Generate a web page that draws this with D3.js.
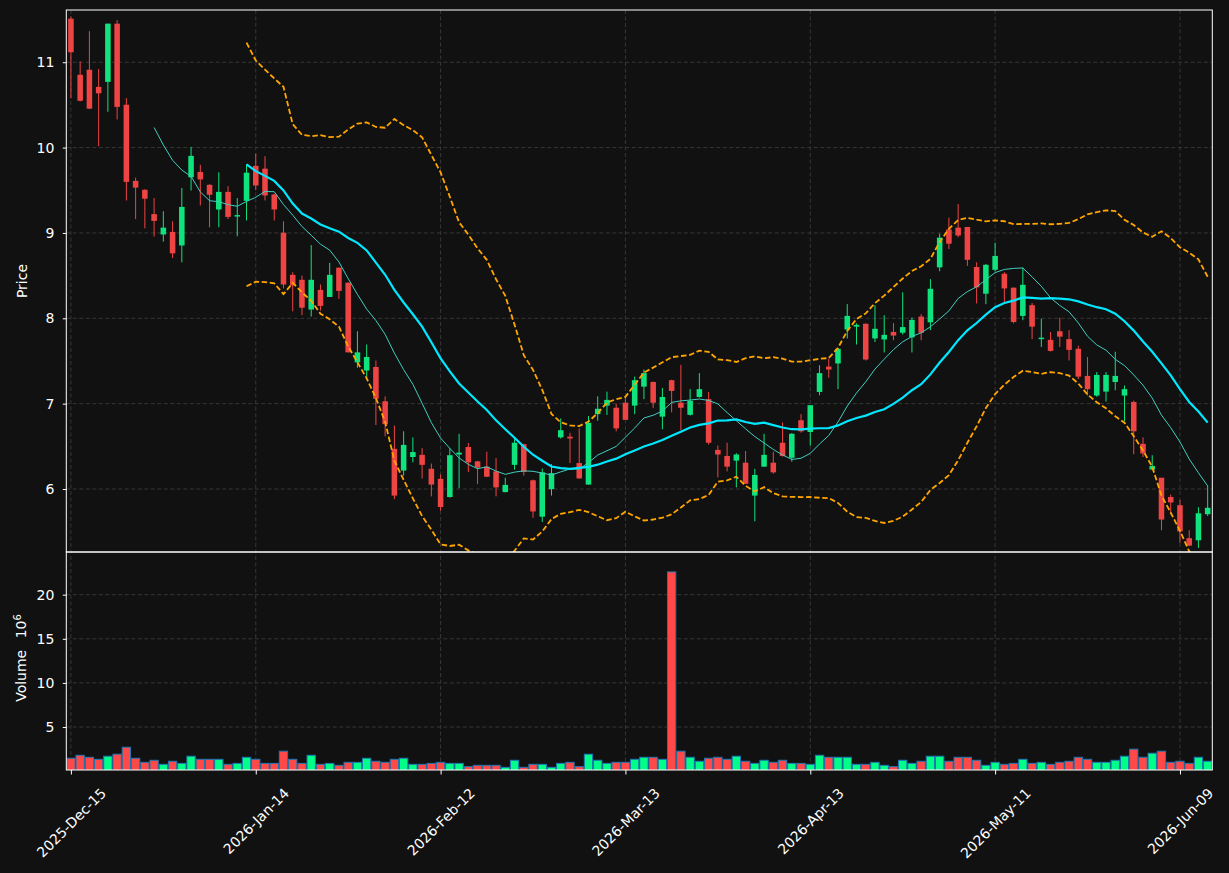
<!DOCTYPE html>
<html><head><meta charset="utf-8">
<script src="https://cdn.jsdelivr.net/npm/d3@7"></script>
<style>html,body{margin:0;padding:0;background:#111111;} svg{display:block;}</style>
</head><body><svg id="chart" width="1229" height="873"></svg>
<script>
const opens = [11.51,10.853,10.912,10.711,10.77,11.452,10.502,9.61,9.506,9.221,8.982,9.012,8.853,9.652,9.715,9.564,9.275,9.481,9.192,9.376,
9.786,9.753,9.451,9.003,8.509,8.451,8.103,8.333,8.25,8.593,8.417,7.484,7.388,7.43,7.028,6.471,6.216,6.375,6.4,6.237,
6.119,5.906,6.404,6.492,6.324,6.262,6.207,5.964,6.283,6.525,6.102,5.676,5.998,6.605,6.613,6.304,6.052,6.877,6.977,6.952,
7.011,6.977,7.199,7.254,6.848,7.275,7.011,6.869,7.078,7.053,6.458,6.387,6.333,6.308,5.923,6.262,6.308,6.542,6.366,6.806,
6.668,7.137,7.434,7.471,7.869,7.902,7.936,7.764,7.752,7.84,7.831,7.777,8.02,7.953,8.597,9.041,9.062,9.07,8.601,8.288,
8.568,8.522,8.359,8.028,8.154,7.756,7.748,7.848,7.756,7.643,7.325,7.095,7.141,7.254,7.095,7.019,6.529,6.228,6.132,5.906,
5.81,5.424,5.399,5.705];
const highs = [11.536,11.01,11.364,10.92,11.452,11.494,10.58,9.648,9.51,9.409,9.254,9.137,9.527,10.008,9.799,9.57,9.711,9.548,9.409,9.807,
9.93,9.899,9.46,9.137,8.54,8.5,8.857,8.396,8.65,8.593,8.42,7.848,7.693,7.505,7.086,6.743,6.676,6.605,6.479,6.299,
6.17,6.479,6.647,6.54,6.33,6.437,6.362,6.132,6.584,6.53,6.11,6.241,6.291,6.827,6.659,6.71,6.856,7.086,7.141,7.0,
7.086,7.317,7.4,7.26,7.183,7.28,7.455,7.17,7.358,7.137,6.509,6.542,6.42,6.446,6.237,6.647,6.437,6.781,6.655,6.877,
6.98,7.45,7.526,7.65,8.166,7.94,7.94,8.154,8.036,7.944,8.304,8.01,8.049,8.459,8.991,9.179,9.338,9.07,8.656,8.635,
8.886,8.54,8.36,8.593,8.18,7.995,7.84,8.007,7.861,7.68,7.547,7.37,7.37,7.609,7.212,7.036,6.605,6.396,6.13,5.935,
5.872,5.517,5.787,6.04];
const lows = [10.58,10.54,10.45,10.016,10.42,10.33,9.38,9.162,9.054,8.957,8.899,8.706,8.656,9.497,9.321,9.066,9.066,9.162,8.961,9.146,
9.5,9.38,9.146,8.35,8.082,8.036,8.02,8.091,8.25,8.227,7.6,7.421,7.287,6.75,6.617,5.881,6.157,6.312,6.123,5.914,
5.746,5.9,6.01,6.199,6.057,6.14,5.914,5.96,6.228,6.157,5.663,5.613,5.923,6.59,6.304,6.12,6.05,6.8,6.867,6.676,
6.81,6.877,7.053,6.95,6.7,6.898,6.69,6.86,7.07,6.52,6.136,6.207,6.019,6.06,5.621,6.26,6.18,6.38,6.32,6.66,
6.509,7.099,7.304,7.17,7.764,7.693,7.505,7.722,7.6,7.743,7.81,7.6,7.743,7.861,8.551,8.811,8.95,8.614,8.174,8.166,
8.55,8.191,7.94,7.978,7.756,7.664,7.61,7.664,7.505,7.287,7.095,7.08,7.024,7.157,6.793,6.408,6.375,6.22,5.517,5.705,
5.37,5.33,5.31,5.684];
const closes = [11.117,10.548,10.456,10.636,11.452,10.477,9.598,9.531,9.401,9.141,9.062,8.761,9.305,9.903,9.627,9.447,9.481,9.188,9.209,9.706,
9.556,9.439,9.275,8.396,8.384,8.124,8.451,8.145,8.509,8.321,7.601,7.601,7.547,7.057,6.76,5.923,6.517,6.433,6.283,6.052,
5.789,6.396,6.426,6.312,6.25,6.144,6.019,6.048,6.542,6.199,5.737,6.195,6.186,6.689,6.592,6.124,6.776,6.94,7.044,6.71,
6.81,7.275,7.358,7.011,7.078,7.149,6.952,7.032,7.17,6.542,6.404,6.262,6.404,6.061,6.165,6.4,6.195,6.387,6.647,6.676,
6.982,7.358,7.4,7.643,8.028,7.923,7.517,7.877,7.806,7.798,7.897,7.981,7.831,8.346,8.945,8.874,8.97,8.685,8.363,8.627,
8.731,8.35,7.957,8.392,7.902,7.773,7.618,7.785,7.63,7.317,7.17,7.337,7.337,7.325,7.17,6.676,6.416,6.27,5.642,5.843,
5.504,5.337,5.716,5.78];
// volume in millions
const volumes = [1.46,1.80,1.57,1.34,1.69,1.92,2.71,1.46,1.00,1.23,0.77,1.12,0.88,1.69,1.34,1.34,1.34,0.77,0.88,1.57,
1.34,0.88,0.88,2.26,1.34,0.88,1.80,0.77,0.88,0.66,1.00,1.00,1.46,1.12,1.00,1.34,1.46,0.77,0.77,0.88,
1.00,0.88,0.88,0.51,0.66,0.66,0.66,0.43,1.23,0.43,0.77,0.77,0.43,0.88,1.00,0.51,1.92,1.23,0.88,1.00,
1.00,1.34,1.57,1.57,1.34,22.58,2.26,1.57,1.12,1.46,1.57,1.34,1.69,1.12,0.88,1.23,1.00,1.23,0.88,0.88,
0.77,1.80,1.57,1.57,1.57,0.77,0.77,1.00,0.66,0.51,1.23,0.88,1.12,1.69,1.69,1.12,1.57,1.57,1.23,0.66,
1.00,0.77,0.88,1.34,0.88,1.00,0.77,1.00,1.12,1.57,1.34,1.00,1.00,1.23,1.69,2.49,1.57,2.03,2.26,1.00,
1.12,0.88,1.57,1.12];
const startDate = "2025-12-15";
const holidays = ["2025-12-25","2026-01-01","2026-01-19","2026-02-16","2026-04-03","2026-05-25"];
const tickIndex = [0,20,40,60,80,100,120];
const tickLabels = ["2025-Dec-15","2026-Jan-14","2026-Feb-12","2026-Mar-13","2026-Apr-13","2026-May-11","2026-Jun-09"];
const priceTicks = [6,7,8,9,10,11];
const volumeTicks = [5,10,15,20];
const priceLimits = [5.262, 11.612];

// trading-day categories
const n = closes.length;
const fmt = d3.utcFormat("%Y-%m-%d");
const dates = [];
{
  let d = new Date(startDate + "T00:00:00Z");
  while (dates.length < n) {
    const wd = d.getUTCDay();
    if (wd !== 0 && wd !== 6 && !holidays.includes(fmt(d))) dates.push(new Date(d));
    d = d3.utcDay.offset(d, 1);
  }
}

const bars = d3.range(n).map(i => ({i, date: dates[i], o: opens[i], h: highs[i], l: lows[i], c: closes[i], v: volumes[i], up: closes[i] >= opens[i]}));

function rolling(arr, w) {
  return arr.map((_, i) => i < w - 1 ? null : d3.mean(arr.slice(i - w + 1, i + 1)));
}
function rollingStd(arr, w) {
  return arr.map((_, i) => {
    if (i < w - 1) return null;
    const s = arr.slice(i - w + 1, i + 1); const m = d3.mean(s);
    return Math.sqrt(d3.mean(s, v => (v - m) * (v - m)));
  });
}
const ma10 = rolling(closes, 10);
const ma20 = rolling(closes, 20);
const sd20 = rollingStd(closes, 20);
const bbUp = ma20.map((m, i) => m == null ? null : m + 2 * sd20[i]);
const bbLo = ma20.map((m, i) => m == null ? null : m - 2 * sd20[i]);

const L = 66.3, R = 1212.3, PT = 10, PB = 552, VT = 552, VB = 770;
const svg = d3.select("#chart");
const FONT = "DejaVu Sans, Liberation Sans, sans-serif";
const BG = "#111111", FG = "#ffffff";
const UP = "#0ee37e", DN = "#ef4444";
const VUP = "#00ff88", VDN = "#ff4848";

svg.append("rect").attr("width", 1229).attr("height", 873).attr("fill", BG);

const x = d3.scaleLinear().domain([-0.5, n - 0.5]).range([L, R]);
const yP = d3.scaleLinear().domain(priceLimits).range([PB, PT]);
const yV = d3.scaleLinear().domain([0.3 * d3.min(volumes), 1.1 * d3.max(volumes)]).range([VB, VT]);
const step = x(1) - x(0);

// clip paths
const defs = svg.append("defs");
defs.append("clipPath").attr("id", "clipP").append("rect").attr("x", L).attr("y", PT).attr("width", R - L).attr("height", PB - PT);
defs.append("clipPath").attr("id", "clipV").append("rect").attr("x", L).attr("y", VT).attr("width", R - L).attr("height", VB - VT);

// grid
const grid = svg.append("g").attr("stroke", "#3b3b3b").attr("stroke-width", 0.9).attr("stroke-dasharray", "4,2.5");
grid.selectAll(".gp").data(priceTicks).join("line").attr("x1", L).attr("x2", R).attr("y1", d => yP(d)).attr("y2", d => yP(d));
grid.selectAll(".gv").data(volumeTicks).join("line").attr("class","gv").attr("x1", L).attr("x2", R).attr("y1", d => yV(d)).attr("y2", d => yV(d));
grid.selectAll(".gx").data(tickIndex).join("line").attr("class","gx").attr("x1", d => x(d)).attr("x2", d => x(d)).attr("y1", PT).attr("y2", VB);

// candles
const cg = svg.append("g").attr("clip-path", "url(#clipP)");
const bodyW = step * 0.6;
cg.selectAll(".wick").data(bars).join("line").attr("class", "wick")
  .attr("x1", d => x(d.i)).attr("x2", d => x(d.i))
  .attr("y1", d => yP(d.h)).attr("y2", d => yP(d.l))
  .attr("stroke", d => d.up ? UP : DN).attr("stroke-width", 1);
cg.selectAll(".body").data(bars).join("rect").attr("class", "body")
  .attr("x", d => x(d.i) - bodyW / 2).attr("width", bodyW)
  .attr("y", d => yP(Math.max(d.o, d.c)))
  .attr("height", d => Math.max(1.2, Math.abs(yP(d.o) - yP(d.c))))
  .attr("fill", d => d.up ? UP : DN);

// lines
const line = d3.line().defined(d => d[1] != null).x(d => x(d[0])).y(d => yP(d[1]));
const lg = svg.append("g").attr("clip-path", "url(#clipP)").attr("fill", "none");
lg.append("path").attr("d", line(ma10.map((v, i) => [i, v]))).attr("stroke", "#3fcfc0").attr("stroke-width", 1);
lg.append("path").attr("d", line(ma20.map((v, i) => [i, v]))).attr("stroke", "#00e8ff").attr("stroke-width", 2.2);
lg.append("path").attr("d", line(bbUp.map((v, i) => [i, v]))).attr("stroke", "#ffa500").attr("stroke-width", 1.8).attr("stroke-dasharray", "5.5,2.6");
lg.append("path").attr("d", line(bbLo.map((v, i) => [i, v]))).attr("stroke", "#ffa500").attr("stroke-width", 1.8).attr("stroke-dasharray", "5.5,2.6");

// volume
const vg = svg.append("g").attr("clip-path", "url(#clipV)");
const vW = step * 0.9;
vg.selectAll("rect").data(bars).join("rect")
  .attr("x", d => x(d.i) - vW / 2).attr("width", vW)
  .attr("y", d => yV(d.v)).attr("height", d => VB - yV(d.v) + 2)
  .attr("fill", d => d.up ? VUP : VDN)
  .attr("stroke", "#1f77b4").attr("stroke-width", 1);

// frames
svg.append("rect").attr("x", L).attr("y", PT).attr("width", R - L).attr("height", PB - PT).attr("fill", "none").attr("stroke", FG).attr("stroke-width", 1);
svg.append("rect").attr("x", L).attr("y", VT).attr("width", R - L).attr("height", VB - VT).attr("fill", "none").attr("stroke", FG).attr("stroke-width", 1);

function styleAxis(g) {
  g.select(".domain").remove();
  g.selectAll(".tick line").attr("stroke", FG).attr("stroke-width", 1);
  g.selectAll(".tick text").attr("fill", FG).attr("font-family", FONT).attr("font-size", 14);
}
svg.append("g").attr("transform", `translate(${L},0)`)
  .call(d3.axisLeft(yP).tickValues(priceTicks).tickSizeInner(3.5).tickSizeOuter(0).tickPadding(8.5).tickFormat(d3.format("d")))
  .call(styleAxis);
svg.append("g").attr("transform", `translate(${L},0)`)
  .call(d3.axisLeft(yV).tickValues(volumeTicks).tickSizeInner(3.5).tickSizeOuter(0).tickPadding(8.5).tickFormat(d3.format("d")))
  .call(styleAxis);
const xa = svg.append("g").attr("transform", `translate(0,${VB})`)
  .call(d3.axisBottom(x).tickValues(tickIndex).tickSizeInner(4.5).tickSizeOuter(0).tickPadding(4).tickFormat((d, k) => tickLabels[k]))
  .call(styleAxis);
xa.selectAll(".tick text").each(function () {
  const t = d3.select(this);
  const len = this.getComputedTextLength();
  const H = (len + 16) * Math.SQRT1_2;
  t.attr("y", 0).attr("dy", "0.35em").attr("text-anchor", "middle")
   .attr("transform", `translate(0,${15 + H / 2}) rotate(-45)`);
});

// axis labels
svg.append("text").attr("transform", `translate(27,${(PT + PB) / 2}) rotate(-90)`)
  .attr("text-anchor", "middle").attr("fill", FG).attr("font-family", FONT).attr("font-size", 14).text("Price");
const vl = svg.append("text").attr("transform", `translate(26,${(VT + VB) / 2 - 3}) rotate(-90)`)
  .attr("text-anchor", "middle").attr("fill", FG).attr("font-family", FONT).attr("font-size", 14);
vl.append("tspan").text("Volume\u2002 10");
vl.append("tspan").attr("dy", "-0.55em").attr("font-size", 10).text("6");
</script></body></html>
